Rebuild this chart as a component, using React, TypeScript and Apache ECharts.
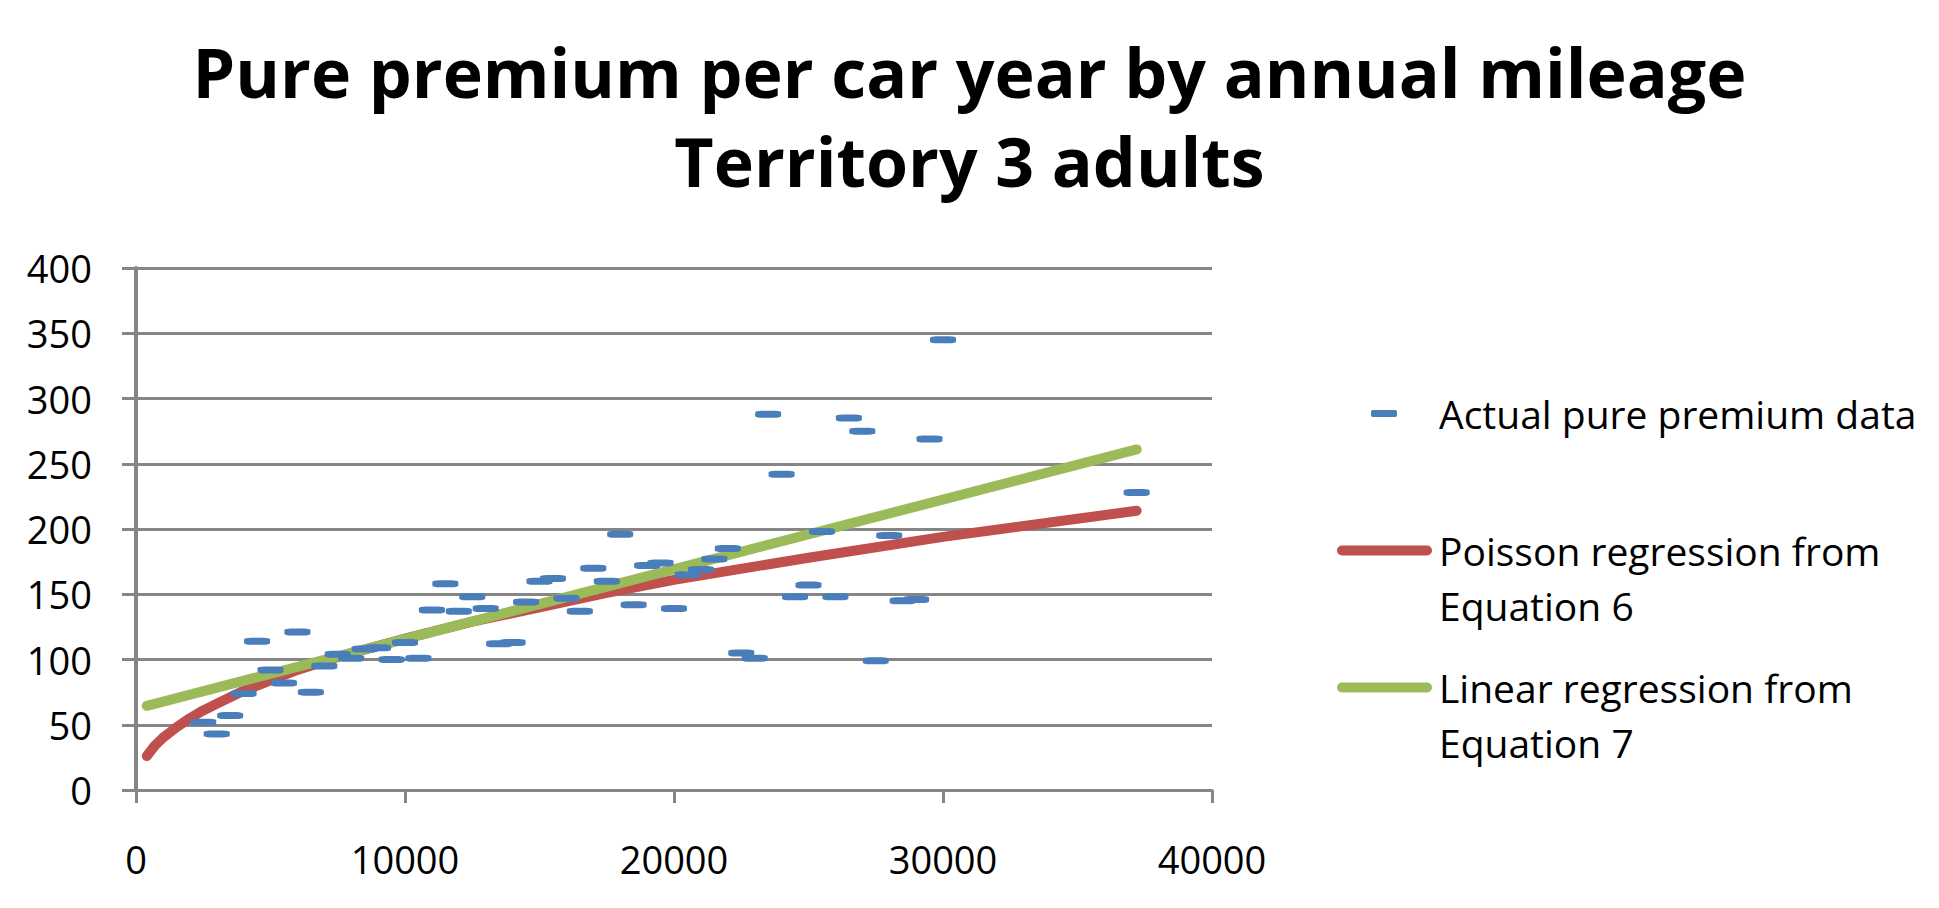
import React, { useEffect, useRef } from "react";
import * as echarts from "echarts";

const TITLE_LINES = ["Pure premium per car year by annual mileage", "Territory 3 adults"];

const SCATTER_NAME = "Actual pure premium data";
const POISSON_NAME = "Poisson regression from\nEquation 6";
const LINEAR_NAME = "Linear regression from\nEquation 7";

// Annual mileage of each observed cell
const mileage = [
  2500, 3000, 3500, 4000, 4500, 5000, 5500, 6000, 6500, 7000, 7500, 8000, 8500, 9000, 9500,
  10000, 10500, 11000, 11500, 12000, 12500, 13000, 13500, 14000, 14500, 15000, 15500, 16000,
  16500, 17000, 17500, 18000, 18500, 19000, 19500, 20000, 20500, 21000, 21500, 22000, 22500,
  23000, 23500, 24000, 24500, 25000, 25500, 26000, 26500, 27000, 27500, 28000, 28500, 29000,
  29500, 30000, 37200,
];
// Actual pure premium per car year
const purePremium = [
  52, 43, 57, 74, 114, 92, 82, 121, 75, 95, 104, 101, 108, 109, 100,
  113, 101, 138, 158, 137, 148, 139, 112, 113, 144, 160, 162, 147,
  137, 170, 160, 196, 142, 172, 174, 139, 165, 169, 177, 185, 105,
  101, 288, 242, 148, 157, 198, 148, 285, 275, 99, 195, 145, 146,
  269, 345, 228,
];

// Poisson regression curve
const poissonX = [400, 550, 700, 850, 1000, 1250, 1500, 2000, 2500, 3000, 3500, 4000, 5000, 6000, 7500, 10000, 12500, 15000, 17500, 20000, 25000, 30000, 37200];
const poissonY = [26, 30, 34, 37, 40, 44, 48, 55, 61, 66, 71, 76, 84, 92, 102, 116, 129, 140, 151, 161, 178, 194, 214];

// Linear regression line
const linearX = [400, 37200];
const linearY = [64.5, 261];

const yTicks = { min: 0, max: 400, interval: 50 };
const xTicks = { min: 0, max: 40000, interval: 10000 };

const FONT = "Open Sans";
const GRID_COLOR = "#868686";
const CAPSULE = "path://M5,0 L90,0 A5,5 0 0 1 90,10 L5,10 A5,5 0 0 1 5,0 Z";

export default function App() {
  const ref = useRef<HTMLDivElement>(null);

  useEffect(() => {
    if (!ref.current) return;
    const chart = echarts.init(ref.current, null, { renderer: "svg" });

    const scatterData = mileage.map((x, i) => [x, purePremium[i]]);
    const poissonData = poissonX.map((x, i) => [x, poissonY[i]]);
    const linearData = linearX.map((x, i) => [x, linearY[i]]);

    const legendText = {
      fontFamily: FONT,
      fontSize: 39,
      color: "#000",
      lineHeight: 55,
    };

    chart.setOption({
      animation: false,
      backgroundColor: "#ffffff",
      title: {
        text: TITLE_LINES.join("\n"),
        left: "center",
        top: 27,
        padding: 0,
        textStyle: {
          fontFamily: FONT,
          fontWeight: "bold",
          fontSize: 68,
          lineHeight: 89,
          color: "#000",
        },
      },
      grid: { left: 136, right: 727, top: 268, bottom: 118 },
      xAxis: {
        type: "value",
        min: xTicks.min,
        max: xTicks.max,
        interval: xTicks.interval,
        axisLine: { show: true, onZero: false, lineStyle: { color: GRID_COLOR, width: 3 } },
        axisTick: { show: true, length: 13, lineStyle: { color: GRID_COLOR, width: 3 } },
        splitLine: { show: false },
        axisLabel: {
          margin: 50,
          fontFamily: FONT,
          fontSize: 38,
          color: "#000",
          formatter: (v: number) => String(v),
        },
      },
      yAxis: {
        type: "value",
        min: yTicks.min,
        max: yTicks.max,
        interval: yTicks.interval,
        axisLine: { show: true, lineStyle: { color: GRID_COLOR, width: 4 } },
        axisTick: { show: true, length: 14, lineStyle: { color: GRID_COLOR, width: 3 } },
        splitLine: { show: true, lineStyle: { color: GRID_COLOR, width: 3 } },
        axisLabel: {
          margin: 44,
          fontFamily: FONT,
          fontSize: 38,
          color: "#000",
          formatter: (v: number) => String(v),
        },
      },
      legend: [
        {
          data: [{ name: SCATTER_NAME, icon: "roundRect", itemStyle: { borderWidth: 0 } }],
          orient: "vertical",
          left: 1371,
          top: 386,
          padding: 0,
          itemWidth: 26,
          itemHeight: 7,
          selectedMode: false,
          textStyle: { ...legendText, padding: [0, 0, 0, 37] },
        },
        {
          data: [{ name: POISSON_NAME, icon: CAPSULE, itemStyle: { borderWidth: 0 } }],
          orient: "vertical",
          left: 1337,
          top: 468,
          padding: 0,
          itemWidth: 95,
          itemHeight: 10,
          selectedMode: false,
          formatter: (name: string) => "\n" + name,
          textStyle: { ...legendText, padding: [0, 0, 0, 2] },
        },
        {
          data: [{ name: LINEAR_NAME, icon: CAPSULE, itemStyle: { borderWidth: 0 } }],
          orient: "vertical",
          left: 1337,
          top: 605,
          padding: 0,
          itemWidth: 95,
          itemHeight: 10,
          selectedMode: false,
          formatter: (name: string) => "\n" + name,
          textStyle: { ...legendText, padding: [0, 0, 0, 2] },
        },
      ],
      series: [
        {
          name: POISSON_NAME,
          type: "line",
          data: poissonData,
          smooth: false,
          symbol: "none",
          showSymbol: false,
          color: "#C0504D",
          itemStyle: { color: "#C0504D" },
          lineStyle: { color: "#C0504D", width: 10, cap: "round", join: "round" },
          z: 2,
        },
        {
          name: LINEAR_NAME,
          type: "line",
          data: linearData,
          symbol: "none",
          showSymbol: false,
          color: "#9BBB59",
          itemStyle: { color: "#9BBB59" },
          lineStyle: { color: "#9BBB59", width: 10, cap: "round" },
          z: 3,
        },
        {
          name: SCATTER_NAME,
          type: "scatter",
          data: scatterData,
          symbol: "roundRect",
          symbolSize: [26, 7],
          color: "#4A7EBB",
          itemStyle: { color: "#4A7EBB", opacity: 1 },
          z: 4,
        },
      ],
    });

    return () => chart.dispose();
  }, []);

  return (
    <div
      ref={ref}
      style={{ position: "fixed", left: 0, top: 0, width: "1939px", height: "908px" }}
    />
  );
}
